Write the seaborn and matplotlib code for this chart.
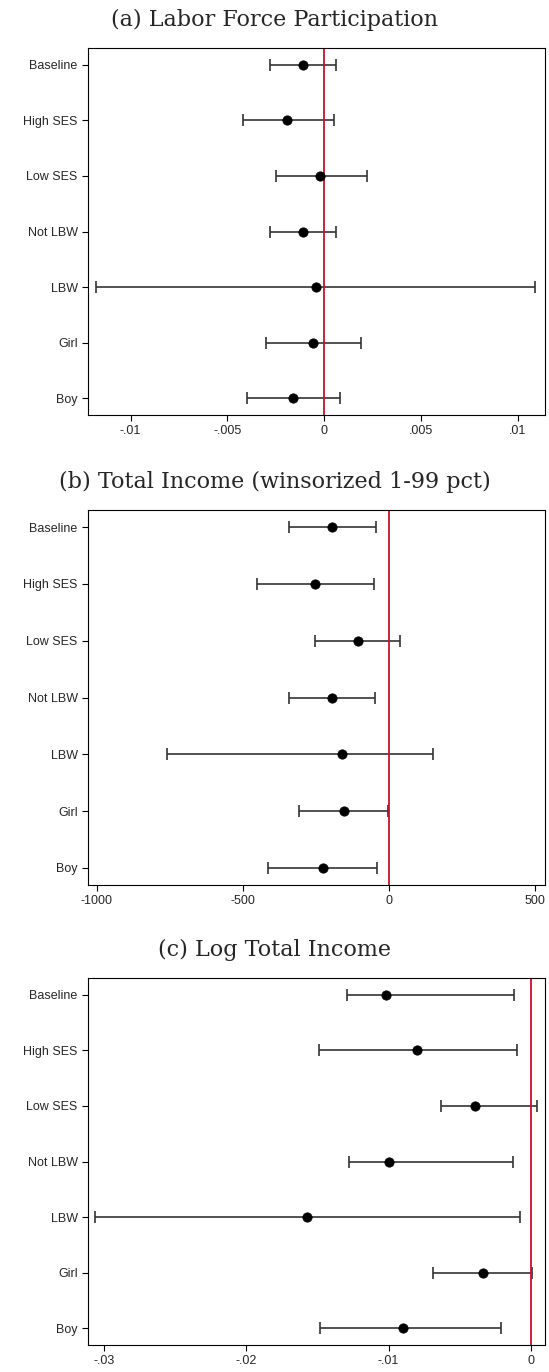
import matplotlib
matplotlib.use("Agg")
import matplotlib.pyplot as plt
import seaborn as sns
import pandas as pd

cats = ["Baseline", "High SES", "Low SES", "Not LBW", "LBW", "Girl", "Boy"]

a_est = [-0.0011, -0.0019, -0.0002, -0.0011, -0.0004, -0.0006, -0.0016]
a_lo = [-0.0028, -0.0042, -0.0025, -0.0028, -0.0118, -0.0030, -0.0040]
a_hi = [0.0006, 0.0005, 0.0022, 0.0006, 0.0109, 0.0019, 0.0008]

b_est = [-195, -253, -106, -195, -161, -154, -226]
b_lo = [-342, -452, -253, -342, -760, -308, -414]
b_hi = [-45, -51, 38, -48, 151, -3, -41]

c_est = [-0.0102, -0.0080, -0.0039, -0.0100, -0.0157, -0.0034, -0.0090]
c_lo = [-0.0129, -0.0149, -0.0063, -0.0128, -0.0306, -0.0069, -0.0148]
c_hi = [-0.0012, -0.0010, 0.0004, -0.0013, -0.0008, 0.0001, -0.0021]

titles = ["(a) Labor Force Participation", "(b) Total Income (winsorized 1-99 pct)", "(c) Log Total Income"]
xticks = [[-0.01, -0.005, 0, 0.005, 0.01], [-1000, -500, 0, 500], [-0.03, -0.02, -0.01, 0]]
xlabels = [["-.01", "-.005", "0", ".005", ".01"], ["-1000", "-500", "0", "500"], ["-.03", "-.02", "-.01", "0"]]
xlims = [(-0.0122, 0.0114), (-1030, 535), (-0.0311, 0.00098)]

sns.set_theme(style="white")
plt.rcParams['font.family'] = ['Liberation Sans', 'DejaVu Sans']
fig = plt.figure(figsize=(5.49, 13.72), dpi=100)
W, H = 549, 1372
boxes = [(48, 415), (510, 885), (978, 1345)]
for i, (est, lo, hi) in enumerate([(a_est, a_lo, a_hi), (b_est, b_lo, b_hi), (c_est, c_lo, c_hi)]):
    top, bot = boxes[i]
    ax = fig.add_axes([88 / W, 1 - bot / H, (545 - 88) / W, (bot - top) / H])
    df = pd.DataFrame({"cat": cats, "est": est, "lo": lo, "hi": hi})
    ypos = list(range(len(cats)))
    ax.errorbar(df["est"], ypos, xerr=[df["est"] - df["lo"], df["hi"] - df["est"]],
                fmt="none", ecolor="#333333", elinewidth=1.2, capsize=4, capthick=1.2)
    sns.scatterplot(data=df, x="est", y=ypos, color="black", s=45, ax=ax, zorder=3, edgecolor="black")
    ax.axvline(0, color="#c8102e", lw=1.3)
    ax.set_yticks(ypos)
    ax.set_yticklabels(cats, fontsize=9)
    ax.set_ylim(6.3, -0.3)
    ax.set_xlim(*xlims[i])
    ax.set_xticks(xticks[i])
    ax.set_xticklabels(xlabels[i], fontsize=9)
    ax.tick_params(axis="both", length=4, width=0.8, direction="out", bottom=True, left=True, color="black")
    for s in ax.spines.values():
        s.set_color("black"); s.set_linewidth(0.8)
    ax.set_xlabel(""); ax.set_ylabel("")
    fig.text(0.5, 1 - (top - 28) / H, titles[i], ha="center", va="center",
             fontsize=16, family="DejaVu Serif")
fig.savefig("out.png", dpi=100)
